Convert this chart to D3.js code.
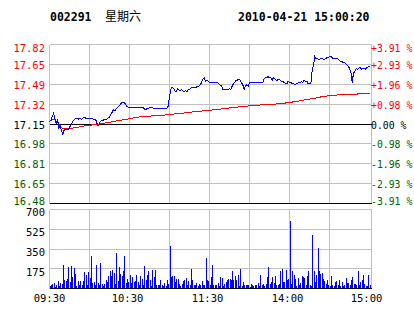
<!DOCTYPE html>
<html><head><meta charset="utf-8">
<script src="https://cdn.jsdelivr.net/npm/d3@7"></script>
<style>body{margin:0;background:#fff}svg{display:block}</style>
</head><body>
<script>
const stockCode = "002291";
const stockName = "星期六";
const timestamp = "2010-04-21 15:00:20";
const prevClose = 17.15;
const maxPct = 0.0391;
const priceTickLabels = ["17.82","17.65","17.49","17.32","17.15","16.98","16.81","16.65","16.48"];
const pctTickLabels = ["+3.91 %","+2.93 %","+1.96 %","+0.98 %","0.00 %","-0.98 %","-1.96 %","-2.93 %","-3.91 %"];
const volTicks = [700,525,350,175];
const timeTickMinutes = [0,60,120,180,240];
const timeTickLabels = ["09:30","10:30","11:30","14:00","15:00"];
const gridMinutes = [30,60,90,120,150,180,210];

const price = [
17.17,17.18,17.21,17.24,17.20,17.15,17.19,17.12,17.13,17.10,
17.06,17.10,17.10,17.10,17.10,17.12,17.14,17.16,17.18,17.19,
17.20,17.20,17.19,17.20,17.19,17.20,17.21,17.20,17.20,17.20,
17.20,17.20,17.20,17.19,17.19,17.18,17.14,17.14,17.17,17.18,
17.18,17.19,17.19,17.19,17.20,17.21,17.23,17.25,17.27,17.26,
17.28,17.29,17.30,17.31,17.33,17.33,17.33,17.32,17.30,17.29,
17.29,17.29,17.29,17.29,17.29,17.29,17.29,17.29,17.29,17.29,
17.29,17.28,17.27,17.28,17.28,17.29,17.29,17.29,17.28,17.28,
17.28,17.28,17.28,17.28,17.28,17.28,17.28,17.28,17.28,17.30,
17.38,17.44,17.46,17.45,17.43,17.42,17.45,17.44,17.43,17.44,
17.43,17.42,17.43,17.42,17.44,17.44,17.45,17.46,17.46,17.46,
17.46,17.47,17.47,17.48,17.50,17.53,17.54,17.51,17.52,17.51,
17.50,17.50,17.50,17.50,17.50,17.50,17.50,17.49,17.48,17.47,
17.44,17.44,17.44,17.44,17.44,17.45,17.44,17.47,17.49,17.50,
17.52,17.52,17.53,17.52,17.50,17.48,17.44,17.47,17.48,17.47,
17.50,17.50,17.50,17.50,17.50,17.50,17.50,17.50,17.50,17.50,
17.50,17.53,17.54,17.54,17.55,17.54,17.54,17.52,17.54,17.53,
17.52,17.52,17.53,17.52,17.51,17.51,17.50,17.49,17.49,17.51,
17.50,17.50,17.49,17.49,17.48,17.49,17.49,17.50,17.50,17.51,
17.50,17.52,17.51,17.51,17.49,17.49,17.49,17.60,17.65,17.72,
17.70,17.70,17.69,17.70,17.70,17.70,17.69,17.70,17.71,17.71,
17.72,17.72,17.71,17.70,17.70,17.70,17.70,17.69,17.68,17.68,
17.67,17.67,17.66,17.65,17.64,17.62,17.59,17.50,17.58,17.59,
17.62,17.61,17.62,17.63,17.61,17.62,17.62,17.61,17.63,17.63,17.64
];

const avgPrice = [
17.172,17.178,17.185,17.190,17.188,17.175,17.162,17.148,17.135,17.122,17.112,
17.110,17.110,17.110,17.111,17.112,17.113,17.115,17.117,17.119,17.121,
17.123,17.125,17.127,17.129,17.131,17.133,17.135,17.137,17.139,17.140,17.141,17.142,17.143,17.144,17.145,
17.147,17.149,17.151,17.153,17.155,17.157,17.159,17.161,17.163,17.165,17.167,17.169,17.171,
17.173,17.175,17.177,17.179,17.181,17.183,17.185,17.187,17.189,17.191,
17.193,17.195,17.197,17.199,17.201,17.203,17.205,17.207,17.209,17.211,
17.212,17.213,17.214,17.214,17.215,17.216,17.217,17.217,17.218,17.219,17.220,17.220,17.221,17.222,17.223,17.223,17.224,17.225,17.226,17.227,17.228,
17.230,17.231,17.232,17.233,17.235,17.236,17.237,17.238,17.240,17.241,17.242,17.243,17.245,17.246,17.247,17.248,17.250,17.251,17.252,17.253,17.255,17.256,17.257,17.258,17.259,17.260,17.261,17.262,
17.263,17.264,17.266,17.267,17.268,17.270,17.271,17.272,17.273,17.275,17.276,17.277,17.279,17.280,17.281,17.282,17.284,17.285,17.286,17.288,17.289,17.290,17.291,17.293,17.294,17.295,17.297,17.298,17.299,17.300,17.301,17.302,17.304,
17.305,17.305,17.306,17.307,17.308,17.308,17.309,17.310,17.311,17.311,17.312,17.313,17.314,17.314,17.315,17.316,17.317,17.317,17.318,17.319,17.320,17.320,
17.321,17.322,17.324,17.325,17.327,17.329,17.330,17.332,17.334,17.335,17.337,17.339,17.340,17.342,17.344,17.346,17.348,17.350,17.352,17.354,
17.356,17.358,17.360,17.362,17.364,17.366,17.368,17.370,17.373,17.375,17.377,17.380,17.382,
17.383,17.384,17.386,17.387,17.388,17.389,17.390,17.391,17.392,17.393,17.395,17.396,
17.397,17.397,17.398,17.398,17.399,17.399,17.400,17.400,17.401,17.401,17.402,17.402,17.403,17.403,17.404,17.404,17.405,17.405,17.406,17.406,17.406,17.407,17.407
];

const volume = [
24,35,44,53,15,29,65,24,53,44,
206,74,65,88,191,59,197,103,182,126,
21,65,35,65,35,65,147,118,29,147,
94,285,50,59,29,206,53,29,226,44,
21,44,74,59,112,153,112,162,138,44,
315,65,191,132,109,153,288,53,88,59,
123,53,103,59,65,123,59,35,112,82,
35,197,74,123,153,74,21,162,103,162,
29,35,35,74,35,21,53,24,74,
44,373,103,109,109,59,82,88,44,21,
44,65,74,97,35,65,29,176,74,35,
35,53,21,44,29,65,35,35,273,74,65,29,
103,206,29,35,35,53,21,103,94,21,
44,59,74,88,88,74,153,74,109,74,
118,21,176,21,59,35,29,35,35,15,
44,35,21,35,29,53,21,118,35,44,
21,44,103,188,44,59,103,53,109,29,
29,44,153,176,59,59,168,74,88,594,
44,153,118,82,21,94,29,53,109,103,
94,29,109,153,35,21,470,153,59,118,
359,153,132,138,82,65,44,74,29,21,
109,35,21,59,65,35,74,21,59,21,
35,94,53,53,29,74,103,44,44,29,
153,35,59,79,123,44,21,21,123,29
];

const W = 414, H = 314;
const svg = d3.select("body").append("svg").attr("width", W).attr("height", H)
  .style("font-family", "'DejaVu Sans Mono', monospace");

const L = 49.5, R = 369.5, FR = 371.5;
const pTop = 44.5, pBot = 203.5;
const vTop = 209.5, vBot = 288.5;
const dev = prevClose * maxPct;

const x = d3.scaleLinear().domain([0, 240]).range([L, R]);
const y = d3.scaleLinear().domain([prevClose - dev, prevClose + dev]).range([pBot, pTop]);
const yv = d3.scaleLinear().domain([0, 700]).range([vBot, vTop]);

const GRAY = "#c0c0c0", RED = "#ff0000", GREEN = "#006000", BLUE = "#0000ff";

// header
svg.append("text").attr("x", 50).attr("y", 21).attr("font-size", 11.5).attr("font-weight", "bold")
  .text(stockCode);
svg.append("text").attr("x", 105).attr("y", 21).attr("font-size", 12)
  .attr("font-family", "'Noto Sans CJK SC', sans-serif").text(stockName);
svg.append("text").attr("x", 238).attr("y", 21).attr("font-size", 11.5).attr("font-weight", "bold")
  .text(timestamp);

const grid = svg.append("g").attr("shape-rendering", "crispEdges");

// price panel horizontal grid
const priceTickVals = priceTickLabels.map((_, i) => prevClose + dev * (4 - i) / 4);
priceTickVals.forEach((v, i) => {
  grid.append("line").attr("x1", L).attr("x2", FR).attr("y1", y(v)).attr("y2", y(v))
    .attr("stroke", (i === 4 || i === 8) ? "#000" : GRAY).attr("stroke-width", 1);
});
// volume horizontal grid
volTicks.forEach(v => {
  grid.append("line").attr("x1", L).attr("x2", FR).attr("y1", yv(v)).attr("y2", yv(v))
    .attr("stroke", GRAY);
});

// vertical grid
gridMinutes.forEach(m => {
  grid.append("line").attr("x1", x(m)).attr("x2", x(m)).attr("y1", pTop).attr("y2", pBot).attr("stroke", GRAY);
  grid.append("line").attr("x1", x(m)).attr("x2", x(m)).attr("y1", vTop).attr("y2", vBot).attr("stroke", GRAY);
});
[L, FR].forEach(xx => {
  grid.append("line").attr("x1", xx).attr("x2", xx).attr("y1", pTop).attr("y2", pBot).attr("stroke", GRAY);
  grid.append("line").attr("x1", xx).attr("x2", xx).attr("y1", vTop).attr("y2", vBot).attr("stroke", GRAY);
});
// black lines on top of verticals
grid.append("line").attr("x1", L).attr("x2", FR).attr("y1", y(prevClose)).attr("y2", y(prevClose)).attr("stroke", "#000");
grid.append("line").attr("x1", L).attr("x2", FR).attr("y1", pBot).attr("y2", pBot).attr("stroke", "#000");
grid.append("line").attr("x1", L).attr("x2", FR).attr("y1", vBot).attr("y2", vBot).attr("stroke", "#000");

// volume bars
svg.append("g").attr("shape-rendering", "crispEdges").selectAll("rect").data(volume).join("rect")
  .attr("x", (d, i) => Math.round(x(i)) - 0.5)
  .attr("width", 1)
  .attr("y", d => yv(d))
  .attr("height", d => vBot - 0.5 - yv(d))
  .attr("fill", BLUE);

// lines
const line = d3.line().x((d, i) => x(i)).y(d => y(d));
svg.append("path").datum(avgPrice).attr("d", line).attr("fill", "none").attr("stroke", RED)
  .attr("stroke-width", 1).attr("shape-rendering", "crispEdges");
svg.append("path").datum(price).attr("d", line).attr("fill", "none").attr("stroke", BLUE)
  .attr("stroke-width", 1).attr("shape-rendering", "crispEdges");

// labels
const colorFor = i => i < 4 ? RED : (i === 4 ? "#000" : GREEN);
priceTickLabels.forEach((t, i) => {
  const gy = y(priceTickVals[i]);
  const by = Math.max(52, Math.min(205, gy + 4.5));
  svg.append("text").attr("x", 45).attr("y", by).attr("text-anchor", "end")
    .attr("font-size", 10.5).attr("fill", colorFor(i)).text(t);
  svg.append("text").attr("x", 371).attr("y", by).attr("text-anchor", "start")
    .attr("font-size", 9.8).attr("fill", colorFor(i)).text(pctTickLabels[i]);
});
volTicks.forEach(v => {
  svg.append("text").attr("x", 45).attr("y", yv(v) + 6.8).attr("text-anchor", "end")
    .attr("font-size", 10.5).attr("fill", "#000").text(v);
});
timeTickMinutes.forEach((m, i) => {
  const off = i === 0 ? 0 : (i === 4 ? -3 : -2);
  svg.append("text").attr("x", x(m) + off).attr("y", 302).attr("text-anchor", "middle")
    .attr("font-size", 10.5).attr("fill", "#000").text(timeTickLabels[i]);
});
</script>
</body></html>
